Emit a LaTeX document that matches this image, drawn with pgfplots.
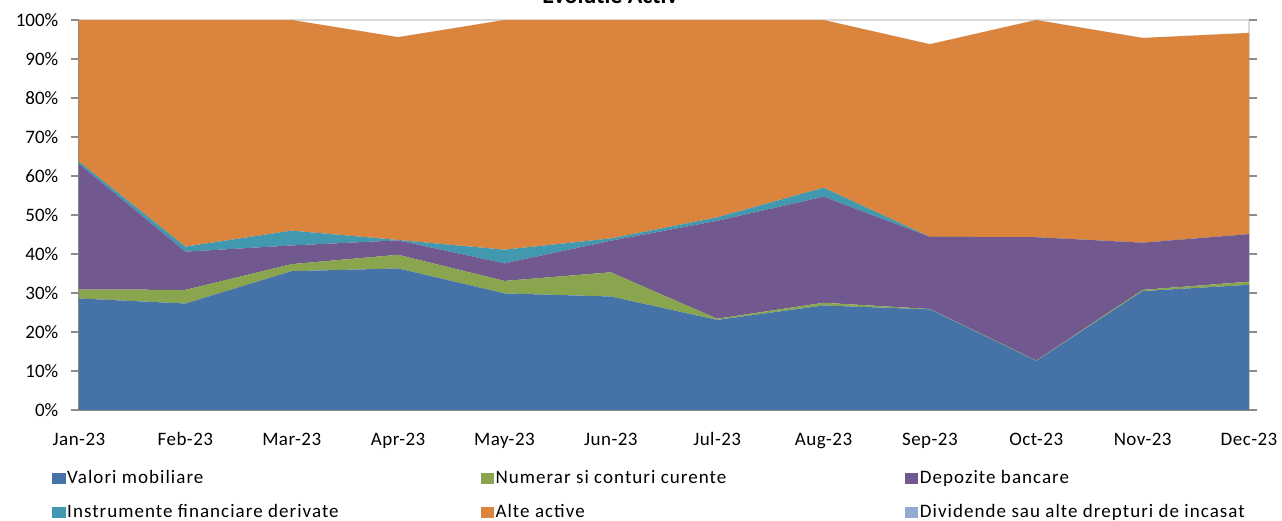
\documentclass[border=0pt]{standalone}
\usepackage{fontspec}
\setmainfont{Carlito}
\newfontfamily\legfont{Carlito}[LetterSpace=5.5]
\newfontfamily\tickfont{Carlito}[LetterSpace=2.5]
\usepackage{pgfplots}
\usepackage{pgfplotstable}
\pgfplotsset{compat=1.18}
\definecolor{cV}{HTML}{4572A7}
\definecolor{cN}{HTML}{89A54E}
\definecolor{cD}{HTML}{71588F}
\definecolor{cI}{HTML}{4198AF}
\definecolor{cA}{HTML}{DB843D}
\definecolor{cDiv}{HTML}{93A9CF}
\pgfplotstableread{
x V N D I A Div
0 28.6 2.3 32.2 0.6 36.3 0
1 27.3 3.5 9.8 1.3 58.1 0
2 35.6 1.8 4.8 3.8 54.0 0
3 36.3 3.5 3.7 0.1 52.0 0
4 29.9 3.2 4.5 3.5 58.9 0
5 29.1 6.2 8.1 0.6 56.0 0
6 23.1 0.3 25.1 0.9 50.6 0
7 26.8 0.7 27.2 2.3 43.0 0
8 25.8 0.1 18.5 0.0 49.4 0
9 12.6 0.1 31.6 0.0 55.7 0
10 30.5 0.3 12.1 0.0 52.5 0
11 32.1 0.8 12.2 0.0 51.6 0
}\datatable
\newcommand{\legboxA}[1]{\makebox[206pt][l]{#1}}
\newcommand{\legboxB}[1]{\makebox[204pt][l]{#1}}
\begin{document}
\fontsize{9.5}{11.4}\selectfont
\begin{tikzpicture}
\begin{axis}[
  scale only axis,
  width=585pt, height=195pt,
  xmin=0, xmax=11, ymin=0, ymax=100,
  stack plots=y,
  area style,
  axis line style={draw=none},
  xtick={0,...,11},
  xticklabels={Jan-23,Feb-23,Mar-23,Apr-23,May-23,Jun-23,Jul-23,Aug-23,Sep-23,Oct-23,Nov-23,Dec-23},
  xtick style={draw=none},
  xticklabel style={yshift=-4pt, font=\tickfont\fontsize{9.5}{11.4}\selectfont},
  ytick={0,10,...,100},
  yticklabel={\pgfmathprintnumber{\tick}\%},
  ytick style={draw=gray!90, line width=0.6pt},
  tick align=outside,
  major tick length=4pt,
  yticklabel style={xshift=-3pt, font=\fontsize{9.5}{11.4}\selectfont},
  /pgf/number format/assume math mode=true,
  clip=false,
  legend columns=3,
  legend cell align=left,
  legend style={
    draw=none, fill=none, inner sep=0pt,
    at={(rel axis cs:-0.0231,-0.150)}, anchor=north west,
    font=\legfont\fontsize{9.5}{11.4}\selectfont,
    /tikz/every even column/.append style={column sep=0pt},
    row sep=7.5pt,
    nodes={inner sep=0.8pt},
  },
  legend image code/.code={\fill[#1] (0pt,-2.8pt) rectangle (6.6pt,2.8pt);},
]
\addplot[fill=cV, draw=none] table[x=x,y=V]{\datatable} \closedcycle;
\addlegendentry{\legboxA{Valori mobiliare}}
\addplot[fill=cN, draw=none] table[x=x,y=N]{\datatable} \closedcycle;
\addlegendentry{\legboxB{Numerar si conturi curente}}
\addplot[fill=cD, draw=none] table[x=x,y=D]{\datatable} \closedcycle;
\addlegendentry{Depozite bancare}
\addplot[fill=cI, draw=none] table[x=x,y=I]{\datatable} \closedcycle;
\addlegendentry{\legboxA{Instrumente financiare derivate}}
\addplot[fill=cA, draw=none] table[x=x,y=A]{\datatable} \closedcycle;
\addlegendentry{\legboxB{Alte active}}
\addplot[fill=cDiv, draw=none] table[x=x,y=Div]{\datatable} \closedcycle;
\addlegendentry{Dividende sau alte drepturi de incasat}
\draw[gray!30, line width=0.6pt] (rel axis cs:0,1) -- (rel axis cs:1,1) -- (rel axis cs:1,0);
\draw[gray!90, line width=0.8pt] (rel axis cs:0,1) -- (rel axis cs:0,0) -- (rel axis cs:1,0);
\node[overlay, anchor=base, font=\bfseries\fontsize{12}{14}\selectfont] at ([yshift=8.5pt]rel axis cs:0.454,1) {Evolutie Activ};
\coordinate (SW) at (rel axis cs:0,0);
\coordinate (NE) at (rel axis cs:1,1);
\end{axis}
\pgfresetboundingbox
\path[use as bounding box] ([xshift=-39.5pt,yshift=-55pt]SW) rectangle ([xshift=16.5pt,yshift=10pt]NE);
\end{tikzpicture}
\end{document}
